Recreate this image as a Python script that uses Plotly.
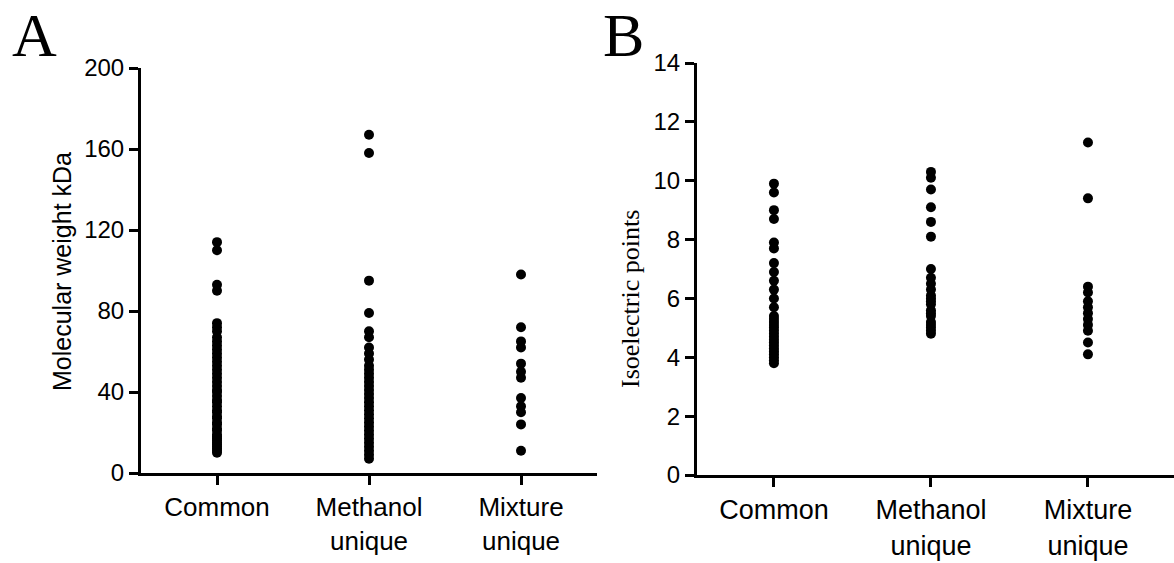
import plotly.graph_objects as go

categories = ["Common", "Methanol<br>unique", "Mixture<br>unique"]

# Panel A: molecular weight (kDa)
mw_common = [114, 110, 93, 90, 74, 72, 70, 67, 65, 63, 61, 59, 57, 55, 53, 51, 49, 47,
             45, 43, 41, 40, 38, 36, 35, 33, 31, 30, 28, 27, 25, 24, 22, 21, 19, 18,
             17, 16, 15, 14, 13, 12, 11, 10]
mw_methanol = [167, 158, 95, 79, 70, 67, 62, 59, 56, 53, 51, 49, 47, 45, 43, 41, 39, 37,
               35, 33, 31, 29, 27, 25, 23, 21, 19, 17, 15, 13, 11, 9, 7]
mw_mixture = [98, 72, 65, 62, 54, 50, 47, 37, 33, 30, 24, 11]

# Panel B: isoelectric points
pi_common = [9.9, 9.6, 9.0, 8.7, 7.9, 7.7, 7.2, 6.9, 6.6, 6.3, 6.0, 5.7, 5.4, 5.3, 5.2,
             5.1, 5.0, 4.9, 4.8, 4.7, 4.6, 4.5, 4.4, 4.3, 4.2, 4.1, 4.0, 3.9, 3.8]
pi_methanol = [10.3, 10.1, 9.7, 9.1, 8.6, 8.1, 7.0, 6.7, 6.5, 6.3, 6.1, 6.0, 5.9, 5.8,
               5.6, 5.5, 5.4, 5.2, 5.1, 5.0, 4.9, 4.8]
pi_mixture = [11.3, 9.4, 6.4, 6.2, 5.9, 5.7, 5.5, 5.3, 5.1, 4.9, 4.5, 4.1]

mw_ticks = [0, 40, 80, 120, 160, 200]
pi_ticks = [0, 2, 4, 6, 8, 10, 12, 14]

W, H = 1174, 563
SANS = "Liberation Sans, Arial, sans-serif"
SERIF = "Liberation Serif, Times New Roman, serif"

fig = go.Figure()
for i, vals in enumerate([mw_common, mw_methanol, mw_mixture]):
    fig.add_trace(go.Scatter(x=[i] * len(vals), y=vals, mode="markers",
                             marker=dict(color="black", size=10),
                             xaxis="x", yaxis="y", showlegend=False))
for i, vals in enumerate([pi_common, pi_methanol, pi_mixture]):
    fig.add_trace(go.Scatter(x=[i] * len(vals), y=vals, mode="markers",
                             marker=dict(color="black", size=10),
                             xaxis="x2", yaxis="y2", showlegend=False))

axis_common = dict(showline=True, linecolor="black", linewidth=3, ticks="outside",
                   ticklen=9, tickwidth=3, tickcolor="black", showgrid=False,
                   zeroline=False, fixedrange=True, automargin=False)

fig.update_layout(
    width=W, height=H, autosize=False,
    margin=dict(l=0, r=0, t=0, b=0, pad=0, autoexpand=False),
    paper_bgcolor="white", plot_bgcolor="white",
    showlegend=False,
    font=dict(family=SANS, color="black"),
    xaxis=dict(domain=[141 / W, 597 / W], range=[-0.5, 2.5], tickvals=[0, 1, 2],
               ticktext=categories, tickfont=dict(size=26), anchor="y", **axis_common),
    yaxis=dict(domain=[90 / H, 495 / H], range=[0, 200], tickvals=mw_ticks,
               tickfont=dict(size=24), anchor="x", **axis_common),
    xaxis2=dict(domain=[697 / W, 1.0], range=[-0.49, 2.548], tickvals=[0, 1, 2],
                ticktext=categories, tickfont=dict(size=27), anchor="y2", **axis_common),
    yaxis2=dict(domain=[88 / H, 500 / H], range=[0, 14], tickvals=pi_ticks,
                tickfont=dict(size=24), anchor="x2", **axis_common),
    annotations=[
        dict(text="Molecular weight kDa", x=62 / W, y=1 - 272 / H, xref="paper", yref="paper",
             textangle=-90, showarrow=False, font=dict(family=SANS, size=25),
             xanchor="center", yanchor="middle"),
        dict(text="Isoelectric points", x=630 / W, y=1 - 299 / H, xref="paper", yref="paper",
             textangle=-90, showarrow=False, font=dict(family=SERIF, size=26),
             xanchor="center", yanchor="middle"),
        dict(text="A", x=34 / W, y=1.0, xref="paper", yref="paper", showarrow=False,
             font=dict(family=SERIF, size=62), xanchor="center", yanchor="top",
             borderpad=0),
        dict(text="B", x=623 / W, y=1.0, xref="paper", yref="paper", showarrow=False,
             font=dict(family=SERIF, size=62), xanchor="center", yanchor="top",
             borderpad=0),
    ],
)

fig.write_html("out.html")
